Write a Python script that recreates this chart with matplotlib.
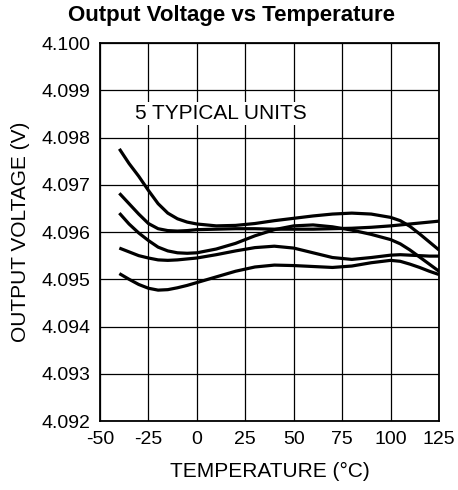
import matplotlib
matplotlib.use("Agg")
import matplotlib.pyplot as plt

plt.rcParams['font.family'] = ['Liberation Sans', 'DejaVu Sans']
plt.rcParams['axes.unicode_minus'] = False

temp = [-40, -35, -30, -25, -20, -15, -10, -5, 0, 10, 20, 30, 40, 50,
        60, 70, 80, 90, 100, 105, 110, 115, 120, 125]

unit1 = [4.09776, 4.09745, 4.09718, 4.09688, 4.09660, 4.09640, 4.09628, 4.09621,
         4.09617, 4.09613, 4.09614, 4.09618, 4.09624, 4.09629, 4.09634, 4.09638,
         4.09640, 4.09638, 4.09631, 4.09624, 4.09612, 4.09596, 4.09579, 4.09562]
unit2 = [4.09682, 4.09660, 4.09638, 4.09618, 4.09607, 4.09603, 4.09602, 4.09603,
         4.09605, 4.09606, 4.09607, 4.09607, 4.09606, 4.09606, 4.09606, 4.09607,
         4.09608, 4.09610, 4.09613, 4.09615, 4.09617, 4.09619, 4.09621, 4.09623]
unit3 = [4.09640, 4.09617, 4.09598, 4.09582, 4.09568, 4.09560, 4.09556, 4.09555,
         4.09556, 4.09564, 4.09576, 4.09592, 4.09605, 4.09613, 4.09615, 4.09611,
         4.09604, 4.09595, 4.09584, 4.09575, 4.09562, 4.09547, 4.09532, 4.09517]
unit4 = [4.09566, 4.09558, 4.09550, 4.09545, 4.09541, 4.09540, 4.09541, 4.09543,
         4.09545, 4.09552, 4.09560, 4.09567, 4.09570, 4.09566, 4.09556, 4.09546,
         4.09542, 4.09546, 4.09551, 4.09552, 4.09551, 4.09550, 4.09549, 4.09549]
unit5 = [4.09512, 4.09500, 4.09489, 4.09481, 4.09477, 4.09478, 4.09482, 4.09487,
         4.09493, 4.09505, 4.09517, 4.09526, 4.09530, 4.09529, 4.09527, 4.09525,
         4.09528, 4.09535, 4.09540, 4.09538, 4.09532, 4.09525, 4.09517, 4.09510]

xticks = [-50, -25, 0, 25, 50, 75, 100, 125]
yticks = [4.092, 4.093, 4.094, 4.095, 4.096, 4.097, 4.098, 4.099, 4.100]

fig = plt.figure(figsize=(4.58, 4.9), dpi=100)
ax = fig.add_axes([0.2183, 0.1408, 0.7402, 0.7714])

for u in [unit1, unit2, unit3, unit4, unit5]:
    ax.plot(temp, u, color='black', lw=2.3, solid_capstyle='butt', zorder=3)

ax.set_xlim(-50, 125)
ax.set_ylim(4.092, 4.100)
ax.set_xticks(xticks)
ax.set_yticks(yticks)
ax.set_yticklabels(['%.3f' % v for v in yticks])
ax.grid(True, color='black', lw=0.9)
ax.tick_params(length=0, pad=7, labelsize=14)
for s in ax.spines.values():
    s.set_linewidth(1.3)

ax.text(-32, 4.0985, '5 TYPICAL UNITS', fontsize=15, va='center', ha='left',
        bbox=dict(facecolor='white', edgecolor='none', pad=1.5), zorder=4)

ax.set_xlabel('TEMPERATURE (°C)', fontsize=15, labelpad=10)
ax.set_ylabel('OUTPUT VOLTAGE (V)', fontsize=15, labelpad=8)
fig.text(0.505, 0.968, 'Output Voltage vs Temperature', fontsize=16,
         fontweight='bold', ha='center', va='center')

fig.savefig('out.png', dpi=100)
